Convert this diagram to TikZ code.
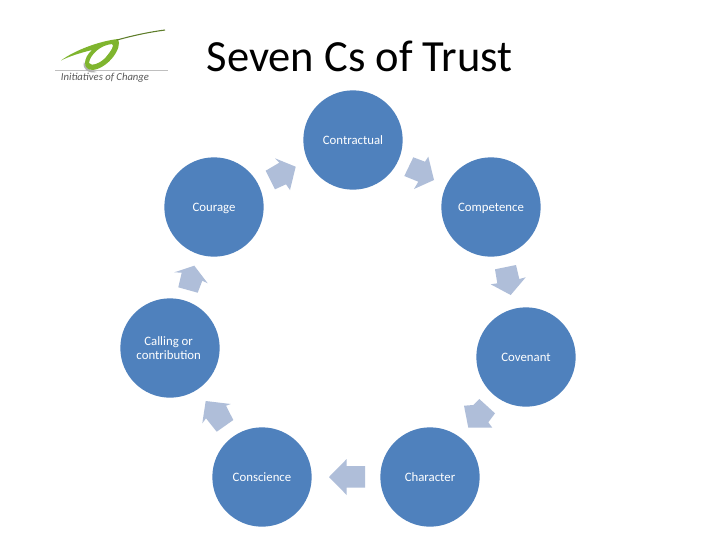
\documentclass[tikz,border=0pt]{standalone}
\usepackage{fontspec}
\setmainfont{Carlito}
\definecolor{blob}{HTML}{4F81BD}
\definecolor{arrowfill}{HTML}{AFBED9}
\definecolor{leaf}{HTML}{7FB52E}
\definecolor{olive}{HTML}{5E7D2A}
\tikzset{
  blob/.style={circle,fill=blob,minimum size=74.5pt,inner sep=0pt,align=center,text=white,font=\fontsize{9.6}{10.6}\selectfont},
  oneline/.style={text height=8.5pt,text depth=2pt},
  arrowshape/.style={fill=arrowfill,draw=none}
}
\begin{document}
\begin{tikzpicture}[x=0.75pt,y=-0.75pt]
\useasboundingbox (0,0) rectangle (720,540);
\fill[white] (0,0) rectangle (720,540);
\node[blob,oneline] (contractual) at (353,140) {Contractual};
\node[blob,oneline] (competence) at (491,207) {Competence};
\node[blob,oneline] (covenant) at (526,357) {Covenant};
\node[blob,oneline] (character) at (430,477) {Character};
\node[blob,oneline] (conscience) at (262,477) {Conscience};
\node[blob] (calling) at (170,348) {\hspace*{-2pt}Calling or\\\hspace*{-2pt}contribution};
\node[blob,oneline] (courage) at (214,207) {Courage};
\fill[arrowshape] (295.7,166.7)--(290,190)--(286,184.3)--(275,189.3)--(265.7,170.7)--(279.3,162.7)--(275,158.3)--cycle;
\fill[arrowshape] (434,180)--(414,189)--(418.3,181.7)--(404.3,176)--(413.3,157.3)--(425,161.7)--(428.3,156.7)--cycle;
\fill[arrowshape] (510.7,295)--(490.7,284.3)--(497.3,283.3)--(495,269.3)--(516,265)--(519.3,279)--(525.7,277.3)--cycle;
\fill[arrowshape] (468.3,427.7)--(464,405.7)--(473.3,405)--(479.3,399)--(495,413.3)--(488.3,422.3)--(492.3,427.7)--cycle;
\fill[arrowshape] (329,477)--(346.7,459)--(346.7,466)--(365,466)--(365,487.7)--(346.7,487.7)--(346.7,495)--cycle;
\fill[arrowshape] (205.7,401)--(230.7,404)--(226,405.7)--(233.3,420)--(216.7,431.7)--(206,418.3)--(202.3,423.3)--cycle;
\fill[arrowshape] (194.3,265.7)--(207.7,283.3)--(202.3,280.7)--(197.7,292.7)--(178.3,287.3)--(181.7,272.7)--(174.3,272.3)--cycle;
\node[font=\fontsize{33.4}{40}\selectfont,anchor=center] (title) at (359.5,56.5) {Seven Cs of Trust};
% logo
\draw[black!25,line width=0.5pt] (55,70) -- (168,70);
\fill[black!30] (84,62) .. controls (82,69) and (88,74) .. (97,72) .. controls (90,71) and (86,68) .. (84,62) -- cycle;
\fill[leaf,even odd rule] (118,39) .. controls (123,48) and (108,68) .. (93,70) .. controls (82,70) and (83,58) .. (92,50) .. controls (80,53) and (70,56) .. (61,60.5) .. controls (75,50) and (100,41) .. (118,39) -- cycle
 (112,44) .. controls (100,45) and (90,55) .. (89,63) .. controls (91,67) and (101,63) .. (106,57) .. controls (111,51) and (115,45) .. (112,44) -- cycle;
\draw[olive,line width=0.8pt] (117,40) .. controls (135,35) and (150,32) .. (165,30);
\node[font=\fontsize{8}{9}\selectfont\itshape,text=black!65,anchor=center] (logotext) at (105,78) {Initiatives of Change};
\end{tikzpicture}
\end{document}
